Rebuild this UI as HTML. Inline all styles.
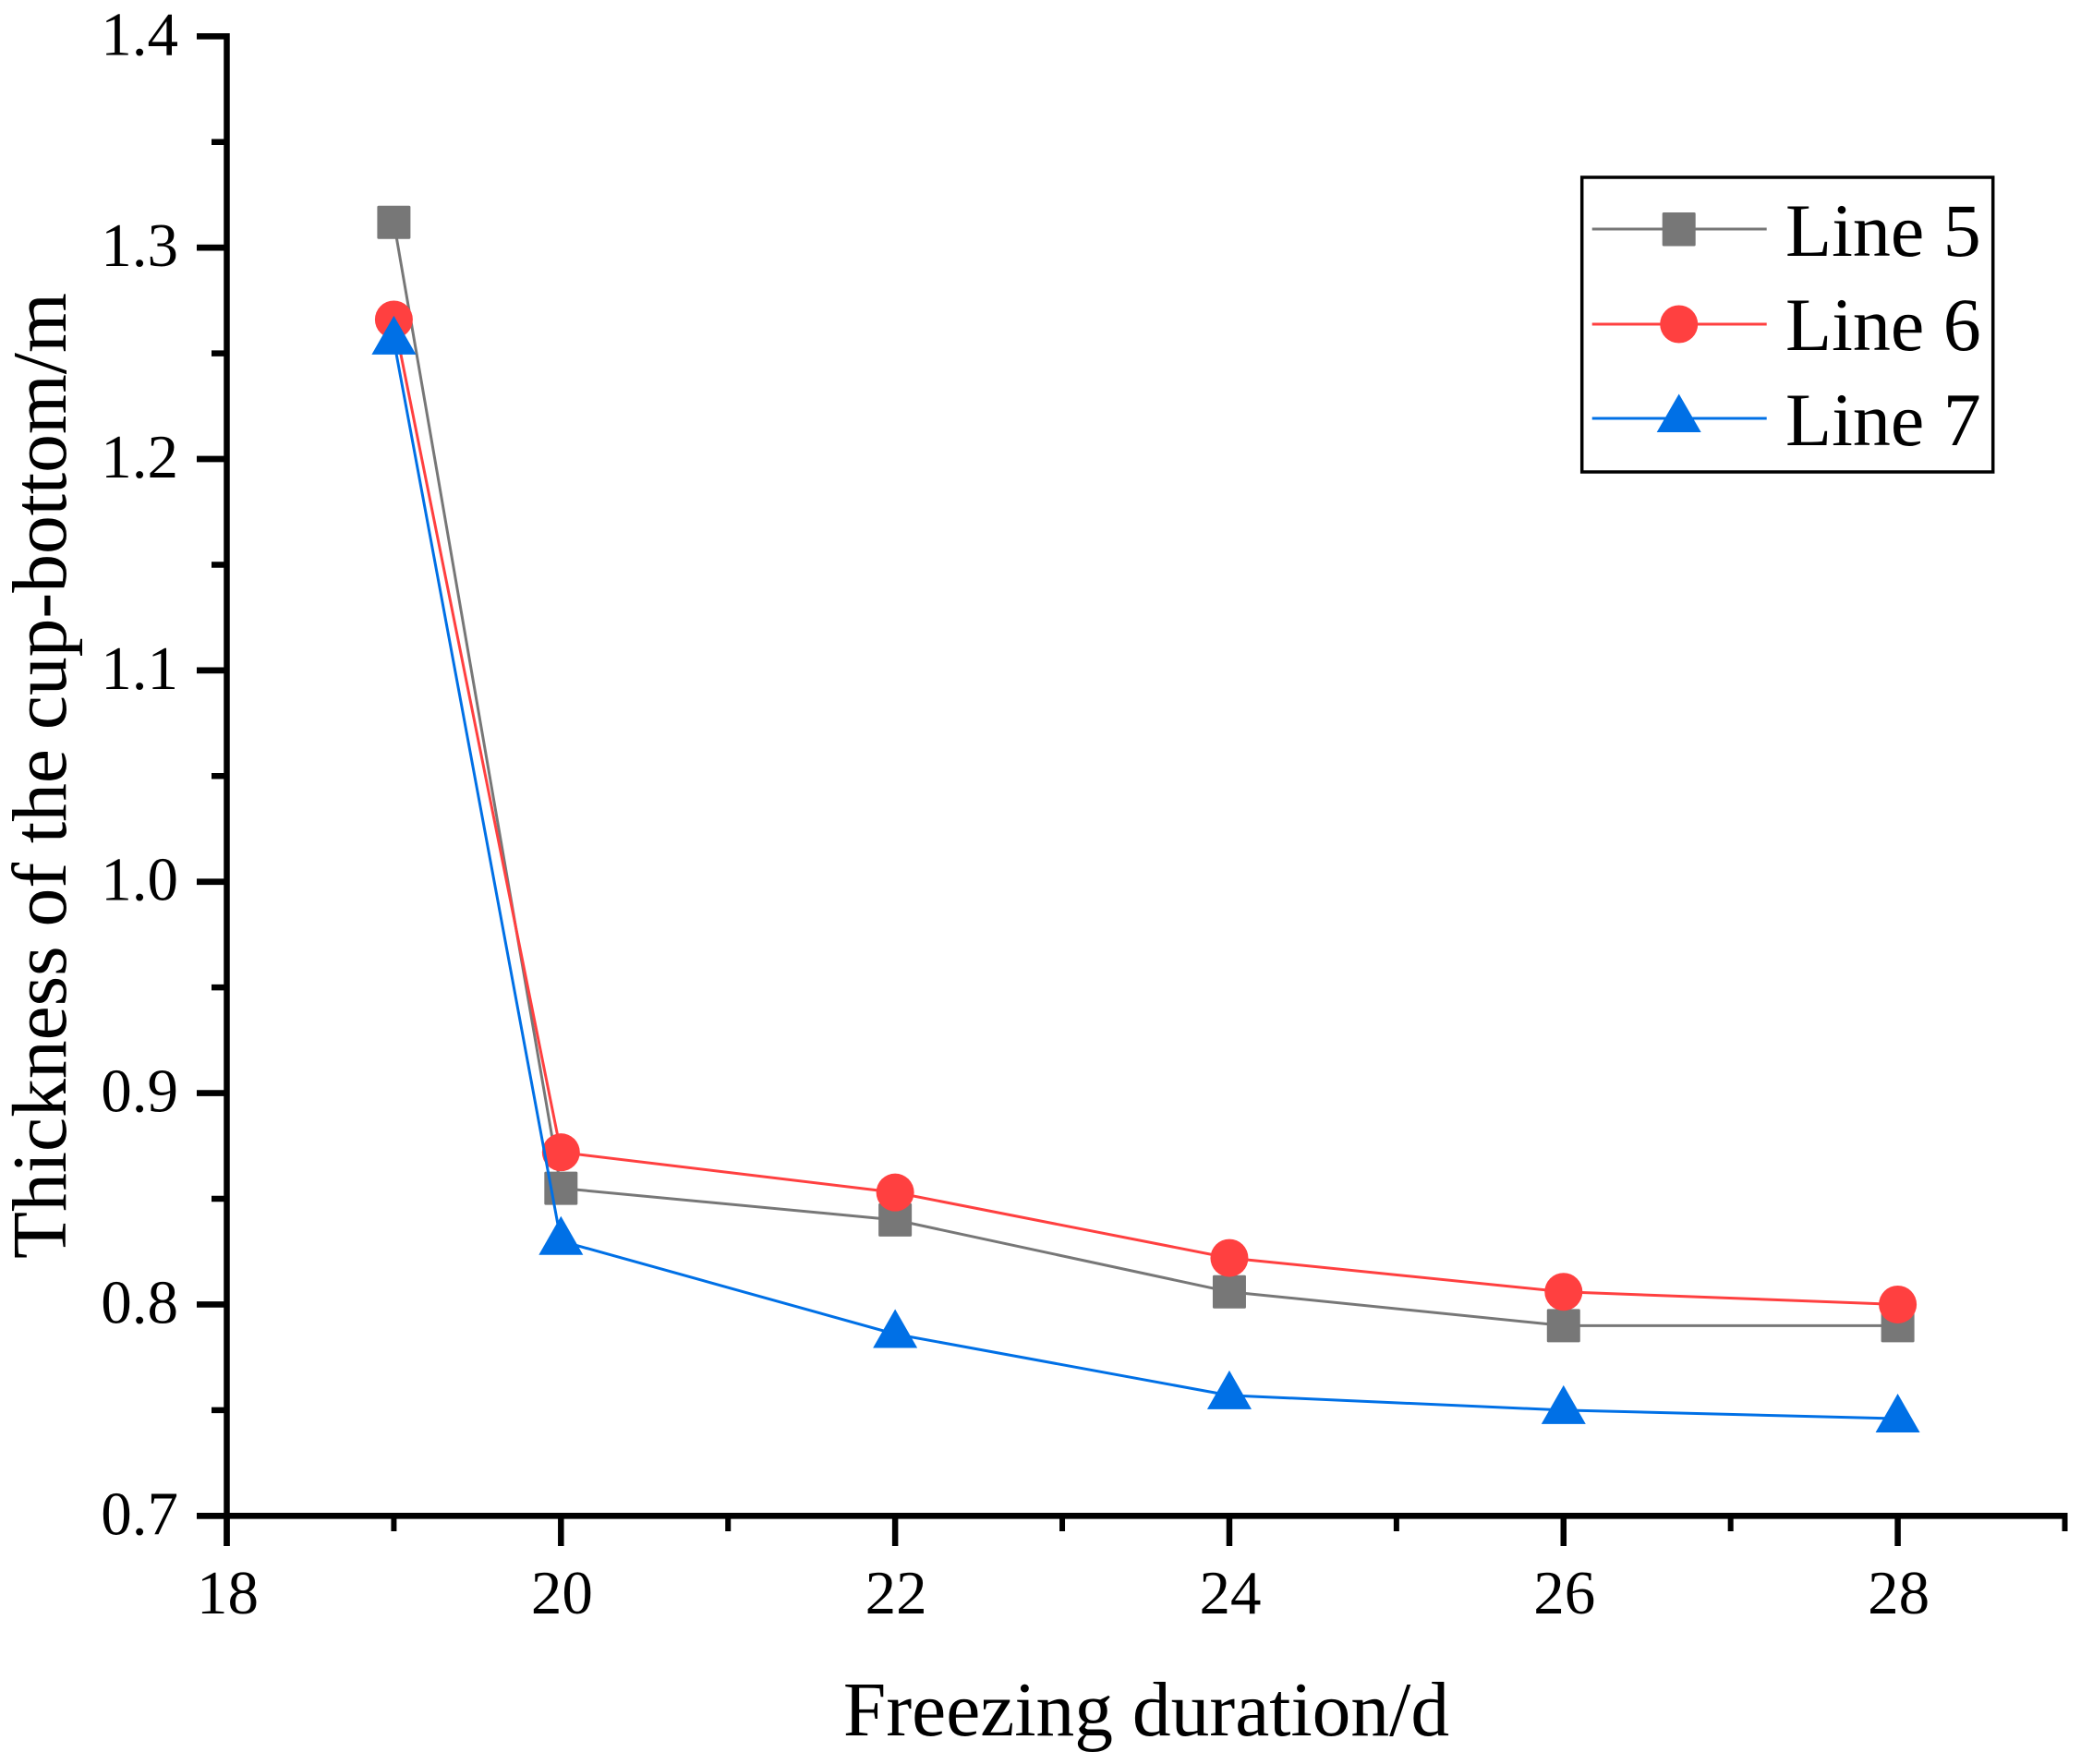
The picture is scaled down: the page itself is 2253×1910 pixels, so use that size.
<!DOCTYPE html>
<html lang="en">
<head>
<meta charset="utf-8">
<title>Thickness of the cup-bottom vs freezing duration</title>
<style>
html,body{margin:0;padding:0;background:#fff;}
svg{display:block;font-family:"Liberation Serif","Times New Roman",serif;}
</style>
</head>
<body>
<svg id="chart" xmlns="http://www.w3.org/2000/svg" width="2253" height="1910" viewBox="0 0 2253 1910">
  <rect x="0" y="0" width="2253" height="1910" fill="#ffffff"/>
  <g id="axes"></g>
  <g id="series"></g>
  <text x="1241" y="1879" font-size="83.5" text-anchor="middle" fill="#000">Freezing duration/d</text>
  <text transform="translate(71 840) rotate(-90)" font-size="83.5" text-anchor="middle" fill="#000">Thickness of the cup-bottom/m</text>
  <g>
    <rect x="1712.7" y="192" width="445" height="319" fill="#fff" stroke="#000" stroke-width="3.5"/>
    <g>
      <line x1="1723.7" y1="248" x2="1912.7" y2="248" stroke="#777777" stroke-width="3"/>
      <rect x="1799.7" y="230" width="36" height="36.5" rx="1.5" fill="#777777"/>
      <text x="1933" y="277" font-size="82" fill="#000">Line 5</text>
    </g>
    <g>
      <line x1="1723.7" y1="351" x2="1912.7" y2="351" stroke="#ff4040" stroke-width="3"/>
      <circle cx="1817.7" cy="351" r="20.5" fill="#ff4040"/>
      <text x="1933" y="379" font-size="82" fill="#000">Line 6</text>
    </g>
    <g>
      <line x1="1723.7" y1="453" x2="1912.7" y2="453" stroke="#0070e6" stroke-width="3"/>
      <polygon points="1817.7,426.5 1841.7,468 1793.7,468" fill="#0070e6"/>
      <text x="1933" y="482" font-size="82" fill="#000">Line 7</text>
    </g>
  </g>
</svg>
<script>
// ----- chart data -----
const durations = [19, 20, 22, 24, 26, 28];
const line5 = [1.312, 0.855, 0.840, 0.806, 0.790, 0.790];
const line6 = [1.266, 0.872, 0.853, 0.822, 0.806, 0.800];
const line7 = [1.256, 0.830, 0.786, 0.757, 0.750, 0.746];
const xTickLabels = ['18', '20', '22', '24', '26', '28'];
const xMinorTicks = [19, 21, 23, 25, 27, 29];
const yTickLabels = ['0.7', '0.8', '0.9', '1.0', '1.1', '1.2', '1.3', '1.4'];
const yMinorTicks = [0.75, 0.85, 0.95, 1.05, 1.15, 1.25, 1.35];
const xDomain = [18, 29];
const yDomain = [0.7, 1.4];

// ----- axis functions -----
const NS = 'http://www.w3.org/2000/svg';
function xScale(v) { return 245.5 + (v - xDomain[0]) / (xDomain[1] - xDomain[0]) * 1990; }
function yScale(v) { return 1641.3 - (v - yDomain[0]) / (yDomain[1] - yDomain[0]) * 1602; }
function make(tag, attrs, parent) {
  const el = document.createElementNS(NS, tag);
  for (const k in attrs) el.setAttribute(k, attrs[k]);
  parent.appendChild(el);
  return el;
}
const axes = document.getElementById('axes');
const seriesGroup = document.getElementById('series');

// axis lines
const yAxisLine = make('line', {x1: xScale(18), x2: xScale(18), y1: yScale(1.4) - 3.3, y2: 1674, stroke: '#000', 'stroke-width': 6.5}, axes);


const xAxisLine = make('line', {x1: 213, x2: xScale(29) + 3, y1: yScale(0.7), y2: yScale(0.7), stroke: '#000', 'stroke-width': 6.7}, axes);



// y ticks
yTickLabels.forEach(function (label) {
  const v = parseFloat(label);
  const y = yScale(v);
  const tick = make('line', {x1: 213, x2: 246, y1: y, y2: y, stroke: '#000', 'stroke-width': 6.7}, axes);
  
  
  const text = make('text', {x: 193, y: y + 20, 'font-size': 67, 'text-anchor': 'end', fill: '#000'}, axes);
  text.textContent = label;
  
  
});
yMinorTicks.forEach(function (v) {
  const y = yScale(v);
  const tick = make('line', {x1: 229, x2: 246, y1: y, y2: y, stroke: '#000', 'stroke-width': 6.5}, axes);
  
  
});

// x ticks
xTickLabels.forEach(function (label) {
  const v = parseFloat(label);
  const x = xScale(v);
  const tick = make('line', {x1: x, x2: x, y1: 1641, y2: 1674, stroke: '#000', 'stroke-width': 6.5}, axes);
  
  
  const text = make('text', {x: x + 1, y: 1747, 'font-size': 67, 'text-anchor': 'middle', fill: '#000'}, axes);
  text.textContent = label;
  
  
});
xMinorTicks.forEach(function (v) {
  const x = xScale(v);
  const tick = make('line', {x1: x, x2: x, y1: 1641, y2: 1658, stroke: '#000', 'stroke-width': 6}, axes);
  
  
});

// series: line and markers, drawn in order so later series sit on top
function drawLine(values, color, name) {
  const pts = values.map(function (v, i) { return xScale(durations[i]) + ',' + yScale(v); }).join(' ');
  const line = make('polyline', {points: pts, fill: 'none', stroke: color, 'stroke-width': 3, 'stroke-linejoin': 'miter'}, seriesGroup);
  
  
}

drawLine(line5, '#777777', 'line-5-path');
line5.forEach(function (v, i) {
  const m = make('rect', {x: xScale(durations[i]) - 18, y: yScale(v) - 18, width: 36, height: 36, rx: 1.5, fill: '#777777'}, seriesGroup);
  
  
});

drawLine(line6, '#ff4040', 'line-6-path');
line6.forEach(function (v, i) {
  const m = make('circle', {cx: xScale(durations[i]), cy: yScale(v), r: 20.5, fill: '#ff4040'}, seriesGroup);
  
  
});

drawLine(line7, '#0070e6', 'line-7-path');
line7.forEach(function (v, i) {
  const cx = xScale(durations[i]);
  const cy = yScale(v);
  const m = make('polygon', {points: cx + ',' + (cy - 27) + ' ' + (cx + 24) + ',' + (cy + 15) + ' ' + (cx - 24) + ',' + (cy + 15), fill: '#0070e6'}, seriesGroup);
  
  
});
</script>
</body>
</html>
